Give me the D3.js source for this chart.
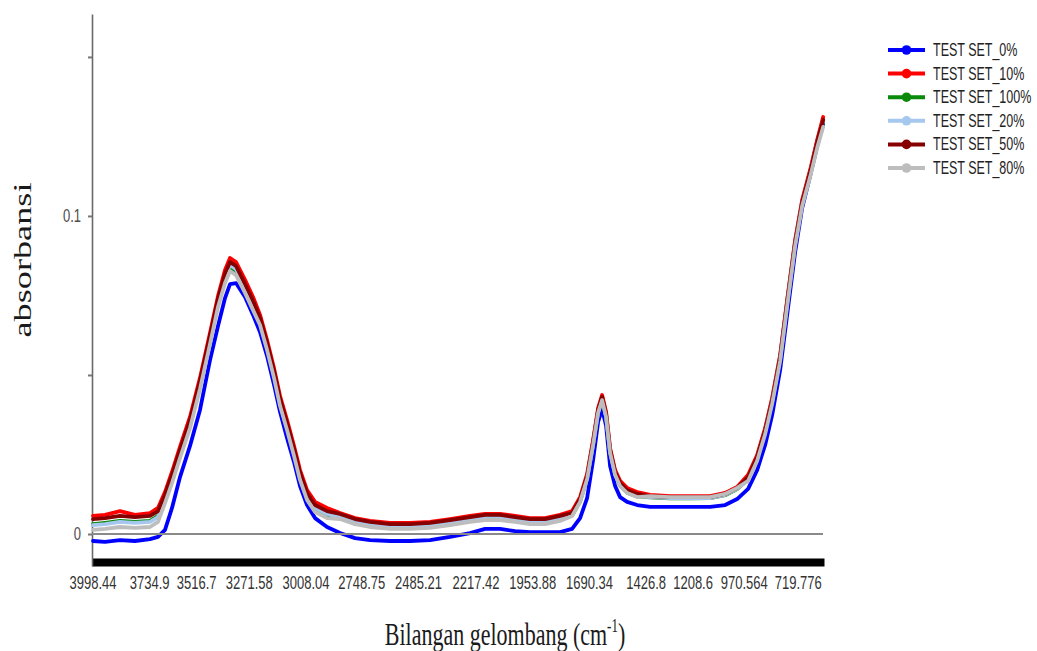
<!DOCTYPE html>
<html><head><meta charset="utf-8">
<script src="https://cdn.jsdelivr.net/npm/d3@7"></script>
<style>body{margin:0;background:#fff}</style>
</head><body><svg id="c" width="1037" height="651"></svg>
<script>
const wavenumbers = [3998.4,3942.6,3872.9,3803.1,3733.4,3696.2,3663.6,3631.1,3593.9,3547.4,3500.9,3454.4,3417.2,3384.6,3361.4,3333.5,3291.6,3254.4,3221.9,3189.3,3156.8,3128.9,3096.3,3063.8,3035.9,3003.3,2966.1,2910.3,2849.9,2780.1,2710.4,2617.4,2524.4,2431.4,2338.4,2245.4,2175.6,2105.9,2036.1,1966.4,1896.6,1826.9,1771.1,1733.9,1701.3,1673.4,1650.2,1631.6,1613.0,1594.4,1571.1,1547.9,1515.3,1468.8,1408.4,1315.4,1222.4,1129.4,1059.6,1003.8,952.7,910.8,873.6,841.1,803.9,771.3,734.1,701.6,664.4,631.8,603.9];

const set0 = [-0.0022,-0.0025,-0.0019,-0.0022,-0.0016,-0.0009,0.0013,0.0082,0.0179,0.0277,0.0390,0.0547,0.0654,0.0742,0.0786,0.0789,0.0745,0.0689,0.0635,0.0560,0.0469,0.0384,0.0302,0.0226,0.0151,0.0091,0.0050,0.0022,0.0003,-0.0013,-0.0019,-0.0022,-0.0022,-0.0019,-0.0009,0.0003,0.0016,0.0016,0.0009,0.0006,0.0006,0.0006,0.0016,0.0050,0.0113,0.0233,0.0352,0.0393,0.0340,0.0214,0.0151,0.0116,0.0101,0.0091,0.0085,0.0085,0.0085,0.0085,0.0091,0.0110,0.0142,0.0201,0.0280,0.0374,0.0516,0.0689,0.0887,0.1025,0.1126,0.1220,0.1289];
const set10 = [0.0057,0.0060,0.0072,0.0060,0.0066,0.0082,0.0132,0.0195,0.0274,0.0368,0.0491,0.0632,0.0748,0.0830,0.0868,0.0855,0.0799,0.0745,0.0689,0.0610,0.0521,0.0434,0.0358,0.0277,0.0201,0.0138,0.0101,0.0082,0.0066,0.0050,0.0041,0.0035,0.0035,0.0038,0.0047,0.0057,0.0063,0.0063,0.0057,0.0050,0.0050,0.0060,0.0072,0.0116,0.0189,0.0296,0.0396,0.0437,0.0384,0.0270,0.0201,0.0167,0.0145,0.0132,0.0123,0.0119,0.0119,0.0119,0.0129,0.0148,0.0186,0.0248,0.0333,0.0428,0.0563,0.0736,0.0925,0.1050,0.1145,0.1239,0.1311];
const set100 = [0.0031,0.0035,0.0041,0.0038,0.0041,0.0057,0.0107,0.0170,0.0248,0.0343,0.0465,0.0607,0.0723,0.0799,0.0836,0.0824,0.0767,0.0714,0.0664,0.0585,0.0497,0.0409,0.0333,0.0252,0.0176,0.0113,0.0075,0.0057,0.0057,0.0041,0.0031,0.0025,0.0025,0.0028,0.0038,0.0047,0.0053,0.0053,0.0047,0.0041,0.0041,0.0050,0.0058,0.0102,0.0174,0.0281,0.0382,0.0423,0.0369,0.0256,0.0187,0.0152,0.0130,0.0118,0.0115,0.0112,0.0112,0.0113,0.0122,0.0141,0.0173,0.0236,0.0321,0.0415,0.0550,0.0723,0.0912,0.1038,0.1132,0.1226,0.1297];
const set20 = [0.0028,0.0031,0.0038,0.0035,0.0038,0.0053,0.0113,0.0176,0.0255,0.0349,0.0472,0.0613,0.0730,0.0808,0.0846,0.0833,0.0777,0.0723,0.0670,0.0591,0.0503,0.0415,0.0340,0.0258,0.0182,0.0119,0.0082,0.0063,0.0053,0.0038,0.0028,0.0022,0.0022,0.0025,0.0035,0.0044,0.0050,0.0050,0.0044,0.0038,0.0038,0.0047,0.0060,0.0104,0.0176,0.0283,0.0384,0.0425,0.0371,0.0258,0.0189,0.0154,0.0132,0.0119,0.0116,0.0113,0.0113,0.0113,0.0123,0.0142,0.0176,0.0239,0.0324,0.0418,0.0553,0.0726,0.0915,0.1041,0.1135,0.1230,0.1299];
const set50 = [0.0047,0.0050,0.0057,0.0053,0.0057,0.0072,0.0123,0.0186,0.0264,0.0358,0.0481,0.0623,0.0739,0.0818,0.0855,0.0843,0.0786,0.0733,0.0679,0.0601,0.0513,0.0425,0.0349,0.0267,0.0192,0.0129,0.0091,0.0072,0.0063,0.0047,0.0038,0.0031,0.0031,0.0035,0.0044,0.0053,0.0060,0.0060,0.0053,0.0047,0.0047,0.0057,0.0066,0.0110,0.0182,0.0289,0.0390,0.0431,0.0377,0.0264,0.0195,0.0160,0.0138,0.0126,0.0119,0.0116,0.0116,0.0116,0.0126,0.0145,0.0179,0.0242,0.0327,0.0421,0.0557,0.0730,0.0918,0.1044,0.1138,0.1233,0.1302];
const set80 = [0.0013,0.0016,0.0022,0.0019,0.0022,0.0038,0.0097,0.0160,0.0239,0.0333,0.0456,0.0597,0.0714,0.0789,0.0827,0.0814,0.0758,0.0704,0.0657,0.0579,0.0491,0.0403,0.0327,0.0245,0.0170,0.0107,0.0069,0.0050,0.0047,0.0031,0.0022,0.0016,0.0016,0.0019,0.0028,0.0038,0.0044,0.0044,0.0038,0.0031,0.0031,0.0041,0.0057,0.0101,0.0173,0.0280,0.0381,0.0421,0.0368,0.0255,0.0186,0.0151,0.0129,0.0116,0.0119,0.0116,0.0116,0.0116,0.0126,0.0145,0.0167,0.0230,0.0314,0.0409,0.0544,0.0717,0.0906,0.1031,0.1123,0.1214,0.1280];

const seriesNames = ["TEST SET_0%","TEST SET_10%","TEST SET_100%","TEST SET_20%","TEST SET_50%","TEST SET_80%"];
const seriesColors = ["#0000ff","#ff0000","#0a8a0a","#a6c8ee","#870000","#bdbdbd"];
const xTickLabels = ["3998.44","3734.9","3516.7","3271.58","3008.04","2748.75","2485.21","2217.42","1953.88","1690.34","1426.8","1208.6","970.564","719.776"];
const yTickValues = [0, 0.05, 0.1, 0.15];
const yTickLabels = ["0", "", "0.1", ""];

const seriesValues = [set0, set10, set100, set20, set50, set80];
const svg = d3.select("#c");
const x = d3.scaleLinear().domain([4003, 600]).range([92, 824]);
const y = d3.scaleLinear().domain([-0.01006, 0.1635]).range([566, 14]);
const SY = 1.4;

// bottom dense-tick bar (x axis)
const xAxisG = svg.append("g").attr("transform", "translate(0,562)")
  .call(d3.axisBottom(x).tickValues([]).tickSizeOuter(0));
xAxisG.select(".domain").attr("stroke", "#000").attr("stroke-width", 8);

// x tick labels
xTickLabels.forEach(t => {
  svg.append("text")
    .attr("transform", `translate(${x(+t)},589) scale(1,${SY})`)
    .attr("text-anchor", "middle")
    .attr("font-family", "Liberation Sans, Arial, sans-serif")
    .attr("font-size", 13).attr("fill", "#333").text(t);
});

// y axis
const yAxisG = svg.append("g").attr("transform", "translate(92,0)")
  .call(d3.axisLeft(y).tickValues(yTickValues).tickSize(4).tickSizeOuter(0).tickFormat(() => ""));
yAxisG.select(".domain").attr("stroke", "#6a6a6a").attr("stroke-width", 1.6);
yAxisG.selectAll(".tick line").attr("stroke", "#777").attr("stroke-width", 2);
yTickValues.forEach((v, i) => {
  if (!yTickLabels[i]) return;
  svg.append("text")
    .attr("transform", `translate(81,${y(v) + 6}) scale(1,${SY})`)
    .attr("text-anchor", "end")
    .attr("font-family", "Liberation Sans, Arial, sans-serif")
    .attr("font-size", 13).attr("fill", "#4d4d4d").text(yTickLabels[i]);
});

// series
const line = d3.line().x((d, i) => x(wavenumbers[i])).y(d => y(d)).curve(d3.curveLinear);
seriesValues.forEach((vals, k) => {
  svg.append("path").datum(vals).attr("d", line)
    .attr("fill", "none").attr("stroke", seriesColors[k])
    .attr("stroke-width", 3.8).attr("stroke-linejoin", "round").attr("stroke-linecap", "round");
});

// zero line
svg.append("line").attr("x1", 92).attr("x2", 823).attr("y1", y(0)).attr("y2", y(0))
  .attr("stroke", "#8a8a8a").attr("stroke-width", 2);

// axis titles
svg.append("text")
  .attr("transform", `translate(505,645) scale(1,1.45)`)
  .attr("text-anchor", "middle")
  .attr("font-family", "Liberation Serif, Times New Roman, serif")
  .attr("font-size", 22).attr("fill", "#1a1a1a")
  .call(t => {
    t.append("tspan").text("Bilangan gelombang (cm");
    t.append("tspan").attr("font-size", 13).attr("dy", -9).text("-1");
    t.append("tspan").attr("dy", 9).text(")");
  });
svg.append("text")
  .attr("transform", `translate(31,260) rotate(-90) scale(1.45,1)`)
  .attr("text-anchor", "middle")
  .attr("font-family", "Liberation Serif, Times New Roman, serif")
  .attr("font-size", 25).attr("fill", "#1a1a1a").text("absorbansi");

// legend
const lg = svg.append("g");
seriesNames.forEach((n, i) => {
  const cy = 50 + i * 23.6;
  lg.append("line").attr("x1", 888).attr("x2", 925).attr("y1", cy).attr("y2", cy)
    .attr("stroke", seriesColors[i]).attr("stroke-width", 4);
  lg.append("circle").attr("cx", 906.5).attr("cy", cy).attr("r", 4.8).attr("fill", seriesColors[i]);
  lg.append("text")
    .attr("transform", `translate(933,${cy + 6}) scale(1,${SY})`)
    .attr("font-family", "Liberation Sans, Arial, sans-serif")
    .attr("font-size", 12.5).attr("fill", "#222").text(n);
});
</script>
</body></html>
